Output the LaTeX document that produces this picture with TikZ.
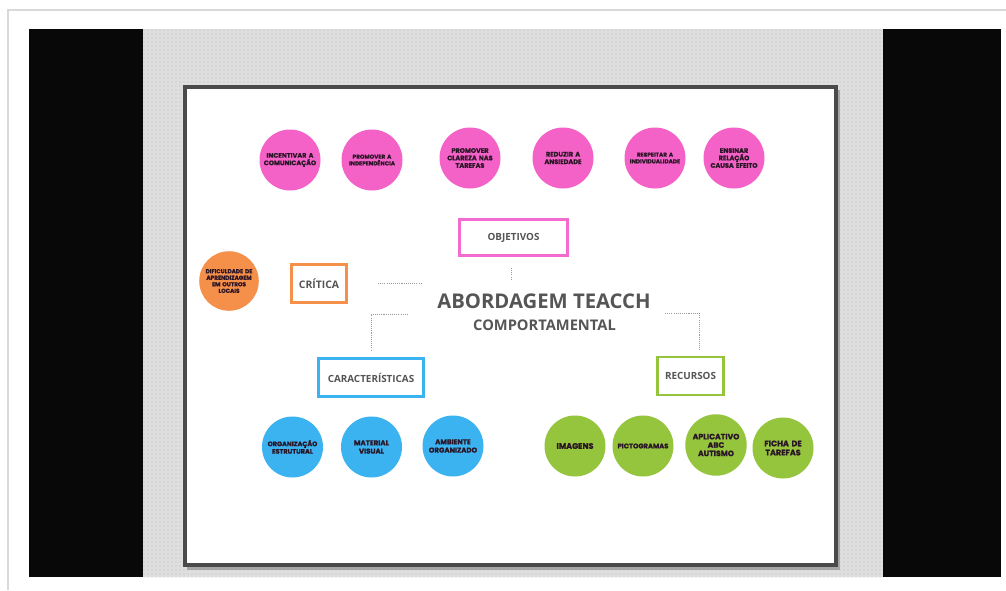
\documentclass[tikz,border=0pt]{standalone}
\usepackage{fontspec}
\setmainfont{Open Sans}
\newfontfamily\circfont{Poppins}[BoldFeatures={FakeBold=1.2}]
\usetikzlibrary{patterns}
\definecolor{pinkc}{HTML}{F462C8}
\definecolor{pinkb}{HTML}{F46BD0}
\definecolor{orangec}{HTML}{F5904A}
\definecolor{bluec}{HTML}{3BB3F0}
\definecolor{greenc}{HTML}{95C43D}
\definecolor{ctext}{HTML}{2A1526}
\definecolor{btext}{HTML}{555555}
\definecolor{framec}{HTML}{4A4A4A}
\definecolor{dotbg}{HTML}{DEDEDE}
\definecolor{dotfg}{HTML}{BDBDBD}
\tikzset{
  circ/.style={circle, inner sep=0pt, minimum size=45.75pt, text width=43pt, align=center,
    text=ctext, font=\circfont\bfseries\fontsize{4.9}{5.6}\selectfont},
  pinkcirc/.style={circ, fill=pinkc},
  orangecirc/.style={circ, fill=orangec},
  bluecirc/.style={circ, fill=bluec},
  greencirc/.style={circ, fill=greenc},
  tbox/.style={draw, line width=2.2pt, fill=white, inner sep=0pt, text=btext,
    font=\bfseries\fontsize{7.4}{8}\selectfont},
  conn/.style={draw=gray!80, line width=0.7pt, dash pattern=on 0.8pt off 0.8pt}
}
\begin{document}
\begin{tikzpicture}[x=0.75pt,y=-0.75pt]
\useasboundingbox (0,0) rectangle (1006,590);
\fill[white] (0,0) rectangle (1006,590);
\draw[gray!30, line width=0.8pt] (8,590) -- (8,10) -- (1006,10);
% black strips
\fill[black!97] (29,29) rectangle (143,577);
\fill[black!97] (883,29) rectangle (1001,577);
% dotted background
\fill[dotbg] (143,29) rectangle (883,577);
\fill[pattern=dots, pattern color=dotfg] (143,29) rectangle (883,577);
% slide frame
\fill[black!35] (187,90) rectangle (840,570);
\draw[framec, line width=3.5pt, fill=white] (185,87) rectangle (836,565);

% top pink circles
\node[pinkcirc] (c1) at (290,160) {INCENTIVAR A\\COMUNICAÇÃO};
\node[pinkcirc, font=\circfont\bfseries\fontsize{4.3}{5}\selectfont] (c2) at (372,160) {PROMOVER A\\INDEPENDÊNCIA};
\node[pinkcirc] (c3) at (470,158) {PROMOVER\\CLAREZA NAS\\TAREFAS};
\node[pinkcirc] (c4) at (563,158) {REDUZIR A\\ANSIEDADE};
\node[pinkcirc, font=\circfont\bfseries\fontsize{4.3}{5}\selectfont] (c5) at (655,158) {RESPEITAR A\\INDIVIDUALIDADE};
\node[pinkcirc] (c6) at (734,158) {ENSINAR\\RELAÇÃO\\CAUSA EFEITO};

% boxes
\node[tbox, draw=pinkb, minimum width=81pt, minimum height=27.5pt] (obj) at (513.5,237.5) {OBJETIVOS};
\node[tbox, draw=orangec, minimum width=41.5pt, minimum height=29pt, font=\bfseries\fontsize{7.8}{8}\selectfont] (crit) at (319,283.5) {CRÍTICA};
\node[tbox, draw=bluec, minimum width=79pt, minimum height=29pt] (car) at (371,377.5) {CARACTERÍSTICAS};
\node[tbox, draw=greenc, minimum width=50pt, minimum height=28.5pt] (rec) at (690.5,376) {RECURSOS};

% orange circle
\node[orangecirc, minimum size=43pt, text width=41pt, font=\circfont\bfseries\fontsize{4.3}{4.9}\selectfont] (dif) at (229,281) {DIFICULDADE DE\\APRENDIZAGEM\\EM OUTROS\\LOCAIS};

% title
\node[text=btext, font=\bfseries\fontsize{15.2}{17}\selectfont, inner sep=0pt] (title) at (544,301) {ABORDAGEM TEACCH};
\node[text=btext, font=\bfseries\fontsize{11}{12}\selectfont, inner sep=0pt] (sub) at (544.5,325) {COMPORTAMENTAL};

% connectors
\coordinate (o1) at (511,268); \coordinate (o2) at (511,280);
\coordinate (k1) at (378,283); \coordinate (k2) at (421,283);
\coordinate (l1) at (408,314); \coordinate (l2) at (371,314); \coordinate (l3) at (371,350);
\coordinate (r1) at (665,313); \coordinate (r2) at (699,313); \coordinate (r3) at (699,350);
\draw[conn] (o1) -- (o2);
\draw[conn] (k1) -- (k2);
\draw[conn] (l1) -- (l2) -- (l3);
\draw[conn] (r1) -- (r2) -- (r3);

% blue circles
\node[bluecirc] (b1) at (292.5,447) {ORGANIZAÇÃO\\ESTRUTURAL};
\node[bluecirc, font=\circfont\bfseries\fontsize{5.3}{6.2}\selectfont] (b2) at (371.5,447) {MATERIAL\\VISUAL};
\node[bluecirc, font=\circfont\bfseries\fontsize{5.3}{6.2}\selectfont] (b3) at (453,446) {AMBIENTE\\ORGANIZADO};

% green circles
\node[greencirc, font=\circfont\bfseries\fontsize{6}{6.8}\selectfont] (g1) at (575,446) {IMAGENS};
\node[greencirc, font=\circfont\bfseries\fontsize{5.1}{6}\selectfont] (g2) at (643,446) {PICTOGRAMAS};
\node[greencirc, font=\circfont\bfseries\fontsize{5.8}{6.3}\selectfont] (g3) at (716,445) {APLICATIVO\\ABC\\AUTISMO};
\node[greencirc, font=\circfont\bfseries\fontsize{6}{6.8}\selectfont] (g4) at (783,448) {FICHA DE\\TAREFAS};
\end{tikzpicture}
\end{document}
